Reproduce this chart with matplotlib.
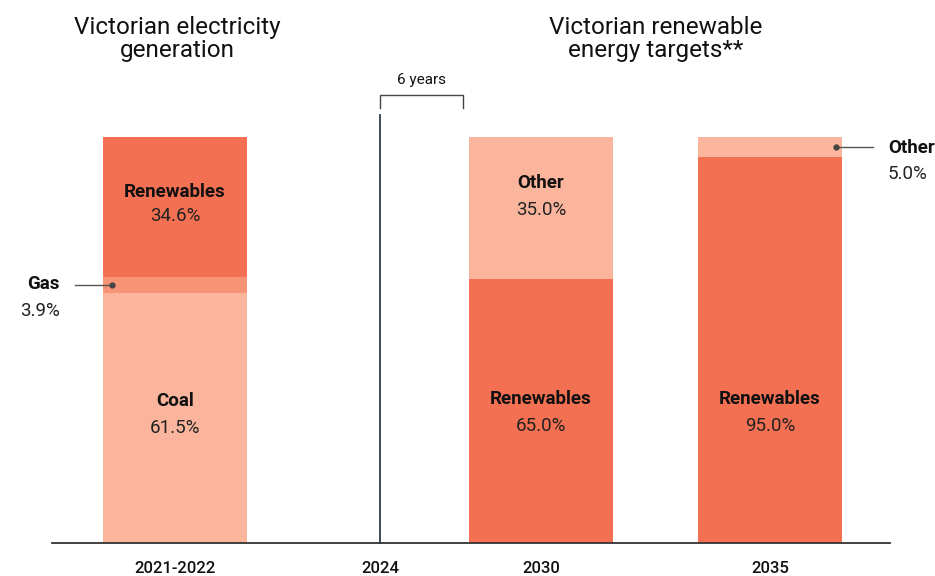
import matplotlib
matplotlib.use("Agg")
import matplotlib.pyplot as plt

# ---- data ----
categories = ["2021-2022", "2030", "2035"]
renewables = [34.6, 65.0, 95.0]
gas = [3.9, 0.0, 0.0]
coal = [61.5, 0.0, 0.0]
other = [0.0, 35.0, 5.0]
tick_labels = ["2021-2022", "2024", "2030", "2035"]

# ---- style ----
C_REN = "#F37052"
C_LIGHT = "#FAB59C"
C_GAS = "#F79476"
INK = "#111111"

BODY = "Roboto"

W, H = 935, 576
fig = plt.figure(figsize=(W / 100, H / 100), dpi=100)
L, R, B, T = 52, 890, 543, 137
ax = fig.add_axes([L / W, 1 - B / H, (R - L) / W, (B - T) / H])
ax.set_xlim(0, R - L)
ax.set_ylim(0, 100)

pos = {"2021-2022": 123, "2024": 328, "2030": 489, "2035": 718}
bw = 144

x0 = pos[categories[0]]
ax.bar(x0, coal[0], bw, color=C_LIGHT, linewidth=0)
ax.bar(x0, gas[0], bw, bottom=coal[0], color=C_GAS, linewidth=0)
ax.bar(x0, renewables[0], bw, bottom=coal[0] + gas[0], color=C_REN, linewidth=0)
for i in (1, 2):
    xi = pos[categories[i]]
    ax.bar(xi, renewables[i], bw, color=C_REN, linewidth=0)
    ax.bar(xi, other[i], bw, bottom=renewables[i], color=C_LIGHT, linewidth=0)

for s in ["top", "right", "left"]:
    ax.spines[s].set_visible(False)
ax.spines["bottom"].set_color("#333333")
ax.spines["bottom"].set_linewidth(1.3)
ax.set_yticks([])
ax.set_xticks([pos[t] for t in tick_labels])
ax.set_xticklabels(tick_labels, fontfamily=BODY, fontweight="medium", fontsize=12, color=INK)
ax.tick_params(axis="x", length=0, pad=13)


def py(y):
    return (B - y) / (B - T) * 100


def px(x):
    return x - L


# 2024 divider line
ax.plot([pos["2024"], pos["2024"]], [0, py(115)], color="#2E3B4A", lw=1.3, clip_on=False)
# 6 years bracket
bx0, bx1 = px(380), px(463)
ax.plot([bx0, bx0, bx1, bx1], [py(108), py(95), py(95), py(108)], color="#444444", lw=1.0, clip_on=False)
ax.text((bx0 + bx1) / 2, py(80), "6 years", ha="center", va="center", fontfamily=BODY, fontsize=11, color=INK)

# titles
fig.text(177 / W, 1 - 39 / H, "Victorian electricity\ngeneration", ha="center", va="center",
         fontfamily=BODY, fontsize=17.5, color=INK, linespacing=1.05)
fig.text(656 / W, 1 - 39 / H, "Victorian renewable\nenergy targets**", ha="center", va="center",
         fontfamily=BODY, fontsize=17.5, color=INK, linespacing=1.05)


def seg_label(x, y_name, y_val, name, val):
    ax.text(x, py(y_name), name, ha="center", va="center", fontfamily=BODY, fontweight="bold",
            fontsize=13.5, color=INK)
    ax.text(x, py(y_val), f"{val:.1f}%", ha="center", va="center", fontfamily=BODY,
            fontsize=13.5, color="#222222")


seg_label(pos["2021-2022"], 192, 216, "Renewables", renewables[0])
seg_label(pos["2021-2022"], 401, 428, "Coal", coal[0])
seg_label(pos["2030"], 183, 210, "Other", other[1])
seg_label(pos["2030"], 399, 426, "Renewables", renewables[1])
seg_label(pos["2035"], 399, 426, "Renewables", renewables[2])

# Gas callout
gy = coal[0] + gas[0] / 2
ax.plot([px(75), px(112)], [gy, gy], color="#555555", lw=1.0, clip_on=False)
ax.plot([px(112)], [gy], "o", color="#444444", ms=3.5, clip_on=False)
ax.text(px(60), py(284), "Gas", ha="right", va="center", fontfamily=BODY, fontweight="bold",
        fontsize=13.5, color=INK, clip_on=False)
ax.text(px(60), py(311), f"{gas[0]:.1f}%", ha="right", va="center", fontfamily=BODY,
        fontsize=13.5, color="#222222", clip_on=False)

# Other 2035 callout
oy = renewables[2] + other[2] / 2
ax.plot([px(836), px(873)], [oy, oy], color="#555555", lw=1.0, clip_on=False)
ax.plot([px(836)], [oy], "o", color="#444444", ms=3.5, clip_on=False)
ax.text(px(888), py(148), "Other", ha="left", va="center", fontfamily=BODY, fontweight="bold",
        fontsize=13.5, color=INK, clip_on=False)
ax.text(px(888), py(174), f"{other[2]:.1f}%", ha="left", va="center", fontfamily=BODY,
        fontsize=13.5, color="#222222", clip_on=False)

fig.savefig("out.png", dpi=100)
